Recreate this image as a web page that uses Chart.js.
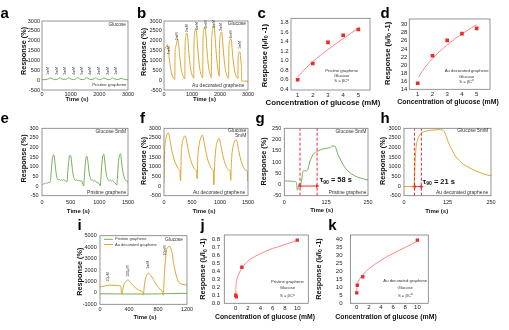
<!DOCTYPE html>
<html><head><meta charset="utf-8">
<script src="https://cdn.jsdelivr.net/npm/chart.js@4/dist/chart.umd.min.js"></script>
<style>
html,body{margin:0;padding:0;background:#fff;}
#wrap{position:relative;width:509px;height:330px;overflow:hidden;background:#fff;}
#wrap canvas{position:absolute;left:0;top:0;}
</style></head><body><div id="wrap"></div>
<script>
// ---------------- DATA ----------------
const timeTicks3000 = [0,1000,2000,3000];
const respTicks3000 = [-500,0,500,1000,1500,2000,2500,3000];
const timeTicks1500 = [0,500,1000,1500];
const respTicksE = [-50,0,50,100,150,200,250,300];
const timeTicks250 = [0,125,250];
const respTicksG = [-50,0,50,100,150,200,250];
const timeTicksI = [0,400,800,1200];
const respTicksI = [-1000,0,1000,2000,3000,4000,5000];
const concTicks5 = [1,2,3,4,5];
const concTicks10 = [0,2,4,6,8,10];
const ratioTicksC = [0.4,0.6,0.8,1.0,1.2,1.4,1.6,1.8];
const ratioTicksD = [14,16,18,20,22,24,26,28,30];
const ratioTicksJ = [0,0.1,0.2,0.3,0.4,0.5,0.6,0.7,0.8];
const ratioTicksK = [0,5,10,15,20,25,30,35,40];

const stepLabels = ['1mM','2mM','3mM','4mM','5mM','4mM','3mM','2mM','1mM'];

// a: pristine graphene, glucose steps
const aTime = [0,100,200,300,380,450,540,620,700,780,850,930,1010,1090,1160,1240,1320,1400,1470,1560,1640,1710,1780,1860,1940,2010,2080,2160,2240,2310,2380,2460,2540,2610,2680,2760,2840,2920,3000];
const aResp = [20,25,50,110,60,25,40,115,60,25,45,120,60,25,45,125,60,25,45,125,60,25,45,120,60,25,45,115,60,25,40,110,55,25,40,100,50,25,20];
const aLabelTime = [210,520,810,1105,1400,1685,1985,2300,2590];
const aLabelResp = [470,470,470,470,470,470,470,470,470];

// b: Au decorated graphene, glucose steps
const bTime = [0,10,40,80,120,150,180,210,240,280,330,385,
 395,405,430,460,486,516,546,576,606,646,696,742,
 750,765,790,818,848,878,908,938,978,1028,1062,
 1070,1085,1110,1139,1169,1199,1229,1259,1299,1349,1382,
 1390,1405,1430,1459,1489,1519,1549,1579,1619,1669,1690,
 1698,1715,1745,1779,1809,1839,1869,1899,1939,1975,
 1983,1998,2025,2052,2082,2112,2142,2172,2212,2262,2307,
 2315,2330,2357,2384,2414,2444,2474,2504,2544,2594,2640,
 2647,2662,2685,2705,2730,2755,2770,2778,2850,3000];
const bResp = [900,1450,1620,1720,1800,1600,1200,850,550,300,130,40,
 1300,1650,1750,1950,2100,1900,1450,1000,650,350,150,60,
 1500,2050,2300,2400,2150,1600,1100,700,380,170,100,
 1600,2250,2500,2600,2350,1750,1200,780,420,190,110,
 1700,2350,2620,2700,2450,1850,1280,820,450,200,130,
 1700,2350,2650,2750,2500,1900,1300,850,430,200,
 1600,2150,2380,2450,2200,1650,1150,750,400,180,90,
 1400,1850,2030,2100,1900,1400,950,620,330,150,70,
 1000,1300,1420,1450,1250,850,500,-40,-50,-50];
const bLabelTime = [178,474,818,1174,1495,1791,2052,2384,2704];
const bLabelResp = [1520,2220,2630,2750,2820,2850,2700,2320,1780];

// c, d: response vs concentration (1-5 mM)
const cConc = [1,2,3,4,5];
const cResp = [0.60,0.94,1.38,1.53,1.65];
const cFitConc = [1,1.5,2,2.5,3,3.5,4,4.5,5,5.1];
const cFitResp = [0.66,0.83,0.98,1.11,1.23,1.35,1.46,1.57,1.68,1.70];
const dConc = [1,2,3,4,5];
const dResp = [15.5,22.3,26.1,27.8,29.1];
const dFitConc = [1.05,1.5,2,2.5,3,3.5,4,4.5,5];
const dFitResp = [17.0,19.5,21.6,23.4,25.0,26.4,27.7,28.9,30.0];

// e: pristine, repeated 5 mM
const eTime = [0,20,40,60,80,100,120,140,150,165,180,195,205,215,230,245,260,280,300,320,340,360,380,400,420,435,445,460,475,490,500,510,525,540,560,580,600,620,640,660,680,700,715,725,735,750,765,780,790,805,820,840,860,880,900,920,940,960,990,1005,1015,1025,1040,1055,1070,1080,1095,1110,1130,1150,1170,1190,1210,1230,1250,1280,1295,1305,1315,1330,1345,1360,1370,1385,1400,1420,1440,1460,1480,1500];
const eResp = [10,8,15,12,18,14,20,20,35,90,140,160,163,150,110,70,45,32,35,28,33,30,35,28,25,22,50,110,150,160,158,140,100,65,40,30,33,26,32,25,28,22,8,0,30,95,140,155,150,115,75,45,30,32,25,30,22,20,15,5,0,30,100,145,162,165,130,85,50,35,28,32,25,30,22,15,8,5,40,110,150,165,168,135,95,60,40,30,25,22];

// f: Au, repeated 5 mM
const fTime = [0,5,15,30,50,70,80,95,115,140,165,190,215,240,265,285,292,298,305,315,330,350,370,385,400,425,450,475,500,525,555,580,588,595,600,612,630,650,670,685,700,725,750,775,800,825,855,880,887,893,900,912,930,950,970,985,1000,1025,1050,1075,1100,1125,1155,1180,1188,1194,1200,1212,1230,1250,1270,1290,1305,1330,1355,1380,1405,1430,1460,1490,1495,1500];
const fResp = [150,1200,2000,2400,2650,2750,2760,2600,2250,1850,1550,1300,1120,980,880,800,300,280,1500,2000,2300,2500,2600,2580,2400,2000,1650,1380,1150,980,850,780,400,380,1200,1800,2200,2450,2600,2650,2520,2150,1750,1450,1200,1030,880,800,100,60,800,1500,2050,2300,2450,2480,2350,1950,1600,1320,1100,950,840,780,350,300,1000,1600,2000,2250,2380,2400,2300,1900,1550,1280,1080,930,820,780,280,250];

// g: pristine, single 5 mM
const gTime = [0,10,20,30,36,39,41,43,45,47,49,52,56,60,65,69,76,86,96,111,126,136,143,151,156,161,166,176,190,200,210,220,230,240,250];
const gResp = [16,15,15,13,10,-25,-20,0,5,-10,0,20,60,62,60,63,100,133,146,156,161,164,171,171,153,130,116,87,60,48,39,32,27,23,20];
const gMarkers = [47,98];
const gArrowResp = -7;

// h: Au, single 5 mM
const hTime = [0,15,28,30,32,35,39,44,50,58,70,85,100,110,116,123,128,133,138,143,152,162,171,180,190,200,210,220,229,240,250];
const hResp = [-30,-30,-25,300,1300,2050,2400,2620,2740,2820,2880,2910,2930,2920,2820,2500,2250,2050,1880,1700,1450,1280,1130,1030,930,840,760,690,630,575,530];
const hMarkers = [30,50];
const hArrowResp = -30;

// i: wide concentration range
const iTime = [0,40,80,138,180,230,280,290,296,305,315,330,350,375,391,410,440,470,500,530,560,580,592,598,605,615,630,648,667,690,720,750,780,810,835,855,868,874,880,890,905,920,940,966,985,1000,1011,1030,1057,1080,1103,1130,1160,1200];
const iAu = [520,560,620,680,660,640,620,400,-60,-80,300,700,950,1100,1120,1000,760,550,380,260,180,140,-100,-200,200,800,1300,1600,1700,1620,1350,1000,700,450,280,150,-100,-200,500,1800,3000,3800,4000,4060,3700,3300,2750,2100,1400,1000,830,760,720,680];
const iPristineTime = [0,200,400,600,800,1000,1200];
const iPristine = [-80,-90,-100,-100,-90,-60,-40];
const iLabelText = ['10\u03bcM','100\u03bcM','1mM','10mM'];
const iLabelTime = [115,385,667,897];
const iLabelResp = [1400,1900,2450,3700];

// j, k: response vs concentration (0.01-10 mM)
const jConc = [0.01,0.1,1,10];
const jResp = [0.10,0.08,0.45,0.79];
const jFitConc = [0,0.02,0.08,0.2,0.4,0.7,1.0,1.5,2,3,4,5,6,7,8,9,10];
const jFitResp = [0.08,0.17,0.24,0.30,0.35,0.40,0.44,0.49,0.53,0.58,0.62,0.655,0.685,0.71,0.735,0.76,0.785];
const kConc = [0.01,0.1,1,10];
const kResp = [6.5,11.3,16.6,39.5];
const kFitConc = [0,0.03,0.1,0.3,0.6,1,1.5,2,3,4,5,6,7,8,9,10];
const kFitResp = [6.0,9.0,11.3,13.8,15.8,17.8,19.9,21.6,24.4,26.9,29.2,31.2,33.1,35.0,36.8,39.0];

// ---------------- STYLE / HELPERS ----------------
const W = 509, H = 330;
const FONT = '"Liberation Sans", Arial, sans-serif';
const GREEN = '#74ae58', GOLD = '#dba632', RED = '#ee2a2a', PINK = '#ff8585', FRAME = '#7a7a7a', TXT = '#222';
const wrap = document.getElementById('wrap');
const fmtInt = v => String(v);
const fmt1 = v => v.toFixed(1);

function P(xs, ys){ return xs.map((x,i)=>({x:x, y:ys[i]})); }
function curve(xs, ys, color){ return {data:P(xs,ys), showLine:true, borderColor:color, backgroundColor:color, borderWidth:1, pointRadius:0, cubicInterpolationMode:'monotone'}; }
function fitLine(xs, ys){ return {data:P(xs,ys), showLine:true, borderColor:PINK, borderWidth:1, pointRadius:0, cubicInterpolationMode:'monotone'}; }
function marks(xs, ys, r){ return {data:P(xs,ys), showLine:false, pointStyle:'rect', pointRadius:r, backgroundColor:RED, pointBackgroundColor:RED, borderColor:RED, pointBorderColor:RED, borderWidth:0, pointBorderWidth:0}; }
function vline(x, y0, y1){ return {data:[{x:x,y:y0},{x:x,y:y1}], showLine:true, borderColor:RED, borderWidth:1, borderDash:[3,2], pointRadius:0}; }
function arrow(x0, x1, y){ return {data:[{x:x0,y:y},{x:x1,y:y}], showLine:true, borderColor:RED, backgroundColor:RED, borderWidth:1, pointStyle:'triangle', pointRadius:2.2, pointRotation:[270,90], pointBackgroundColor:RED, pointBorderColor:RED, pointBorderWidth:0}; }

function fontStr(size, bold, italic){ return (italic?'italic ':'') + (bold?'bold ':'') + size + 'px ' + FONT; }
function drawRich(ctx, parts, x, y, o){
  ctx.save();
  ctx.translate(x, y);
  if (o.rot) ctx.rotate(o.rot);
  let w = 0;
  for (const [t,m] of parts){ ctx.font = fontStr(m ? o.size*0.68 : o.size, o.bold, o.italic); w += ctx.measureText(t).width; }
  let cx = o.align === 'left' ? 0 : (o.align === 'right' ? -w : -w/2);
  ctx.textBaseline = 'middle'; ctx.textAlign = 'left'; ctx.fillStyle = o.color || TXT;
  for (const [t,m] of parts){
    const s = m ? o.size*0.68 : o.size;
    ctx.font = fontStr(s, o.bold, o.italic);
    const dy = m === 1 ? o.size*0.3 : (m === 2 ? -o.size*0.32 : 0);
    ctx.fillText(t, cx, dy);
    cx += ctx.measureText(t).width;
  }
  ctx.restore();
}

const RATIO_TITLE = [['Response (I',0],['f',1],['/I',0],['0',1],[' -1)',0]];
const RESP_TITLE = [['Response (%)',0]];
const SFIT = [['S = \u03b2C',0],['\u03b1',2]];
function rotLabels(texts, xs, ys, size){ return xs.map((x,i)=>({parts:[[texts[i],0]], x:x, y:ys[i], rot:-Math.PI/2, size:size})); }
function tau(val, x, y){ return {parts:[['\u03c4',0],['90',1],[' = '+val+' s',0]], x:x, y:y, align:'left', size:7.5, bold:true, color:'#111'}; }

// ---------------- PANELS ----------------
const PANELS = [
 { letter:['a',0.5,18.3], plot:[42,21,128,90], tick:5.5,
   x:{min:0,max:3000,ticks:timeTicks3000,fmt:fmtInt,pad:1}, y:{min:-500,max:3000,ticks:respTicks3000,fmt:fmtInt,pad:2},
   yTitle:{parts:RESP_TITLE,x:23.5,y:51,size:7.3}, xTitle:{text:'Time (s)',x:77,y:99,size:6},
   datasets:[curve(aTime,aResp,GREEN)],
   notes:[{parts:[['Glucose',0]],x:2930,y:2800,align:'right',size:4.8},
          {parts:[['Pristine graphene',0]],x:2950,y:-250,align:'right',size:4.4}].concat(rotLabels(stepLabels,aLabelTime,aLabelResp,3.6)) },
 { letter:['b',137,18.3], plot:[164,21,248,90], tick:5.5,
   x:{min:0,max:3000,ticks:timeTicks3000,fmt:fmtInt,pad:1}, y:{min:-500,max:3000,ticks:respTicks3000,fmt:fmtInt,pad:2.3},
   yTitle:{parts:RESP_TITLE,x:143.5,y:52,size:7.3}, xTitle:{text:'Time (s)',x:204.5,y:99,size:6},
   datasets:[curve(bTime,bResp,GOLD)],
   notes:[{parts:[['Glucose',0]],x:2930,y:2850,align:'right',size:5},
          {parts:[['Au decorated graphene',0]],x:2870,y:-300,align:'right',size:5}].concat(rotLabels(stepLabels,bLabelTime,bLabelResp,3.6)) },
 { letter:['c',257.5,18.3], plot:[291,18.3,370,90], tick:6,
   x:{min:0.56,max:5.77,ticks:concTicks5,fmt:fmtInt,pad:1.4}, y:{min:0.385,max:1.885,ticks:ratioTicksC,fmt:fmt1,pad:2.4},
   yTitle:{parts:RATIO_TITLE,x:264.5,y:55.7,size:7.6}, xTitle:{text:'Concentration of glucose (mM)',x:323,y:103.3,size:7.8},
   datasets:[marks(cConc,cResp,2.6), fitLine(cFitConc,cFitResp)],
   notes:[{parts:[['Pristine graphene',0]],x:3.9,y:0.79,size:4.2},{parts:[['Glucose',0]],x:3.9,y:0.68,size:4.2},{parts:SFIT,x:3.9,y:0.57,size:4.2}] },
 { letter:['d',380.5,18.3], plot:[409.3,19,490,89.3], tick:6,
   x:{min:0.43,max:5.9,ticks:concTicks5,fmt:fmtInt,pad:1.4}, y:{min:14,max:31.4,ticks:ratioTicksD,fmt:fmtInt,pad:2},
   yTitle:{parts:RATIO_TITLE,x:387.7,y:53.3,size:7.6}, xTitle:{text:'Concentration of glucose (mM)',x:448,y:102.5,size:6.9},
   datasets:[marks(dConc,dResp,2.6), fitLine(dFitConc,dFitResp)],
   notes:[{parts:[['Au decorated graphene',0]],x:4.32,y:18.6,size:4.2},{parts:[['Glucose',0]],x:4.32,y:17.2,size:4.2},{parts:SFIT,x:4.32,y:15.9,size:4.2}] },
 { letter:['e',0.5,123.3], plot:[42,128.3,128,195.7], tick:5.5,
   x:{min:0,max:1500,ticks:timeTicks1500,fmt:fmtInt,pad:3}, y:{min:-50,max:300,ticks:respTicksE,fmt:fmtInt,pad:3.4},
   yTitle:{parts:RESP_TITLE,x:23.5,y:158.5,size:7.3}, xTitle:{text:'Time (s)',x:78.3,y:211,size:6},
   datasets:[curve(eTime,eResp,GREEN)],
   notes:[{parts:[['Glucose 5mM',0]],x:1470,y:283,align:'right',size:5},
          {parts:[['Pristine graphene',0]],x:1470,y:-32,align:'right',size:5}] },
 { letter:['f',140,123.3], plot:[164,128.3,248,195.7], tick:5.5,
   x:{min:0,max:1500,ticks:timeTicks1500,fmt:fmtInt,pad:3}, y:{min:-500,max:3000,ticks:respTicks3000,fmt:fmtInt,pad:3},
   yTitle:{parts:RESP_TITLE,x:143.5,y:161,size:7.3}, xTitle:{text:'Time (s)',x:204,y:211,size:6},
   datasets:[curve(fTime,fResp,GOLD)],
   notes:[{parts:[['Glucose',0]],x:1470,y:2880,align:'right',size:5},{parts:[['5mM',0]],x:1470,y:2620,align:'right',size:5},
          {parts:[['Au decorated graphene',0]],x:1450,y:-320,align:'right',size:5}] },
 { letter:['g',255.5,123.3], plot:[284.3,128.3,368,195.7], tick:5.5,
   x:{min:0,max:250,ticks:timeTicks250,fmt:fmtInt,pad:3}, y:{min:-50,max:250,ticks:respTicksG,fmt:fmtInt,pad:3},
   yTitle:{parts:RESP_TITLE,x:263.7,y:161.5,size:7.3}, xTitle:{text:'Time (s)',x:321.7,y:210.5,size:6},
   datasets:[arrow(gMarkers[0],gMarkers[1],gArrowResp), vline(gMarkers[0],-50,250), vline(gMarkers[1],-50,250), curve(gTime,gResp,GREEN)],
   notes:[{parts:[['Glucose 5mM',0]],x:245,y:236,align:'right',size:5},
          {parts:[['Pristine graphene',0]],x:245,y:-35,align:'right',size:4.8}, tau('58',106,20)] },
 { letter:['h',380.5,123.3], plot:[404,128.3,491,195.7], tick:5.5,
   x:{min:0,max:250,ticks:timeTicks250,fmt:fmtInt,pad:3}, y:{min:-500,max:3000,ticks:respTicks3000,fmt:fmtInt,pad:3.3},
   yTitle:{parts:RESP_TITLE,x:383.3,y:161,size:7.3}, xTitle:{text:'Time (s)',x:436.7,y:211,size:6},
   datasets:[arrow(hMarkers[0],hMarkers[1],hArrowResp), vline(hMarkers[0],-500,3000), vline(hMarkers[1],-500,3000), curve(hTime,hResp,GOLD)],
   notes:[{parts:[['Glucose 5mM',0]],x:242,y:2860,align:'right',size:5},
          {parts:[['Au decorated graphene',0]],x:242,y:-323,align:'right',size:5}, tau('21',54,227)] },
 { letter:['i',77.5,230], plot:[100,235.7,187,304.3], tick:5.5,
   x:{min:0,max:1200,ticks:timeTicksI,fmt:fmtInt,pad:1.4}, y:{min:-1000,max:5000,ticks:respTicksI,fmt:fmtInt,pad:3.3},
   yTitle:{parts:RESP_TITLE,x:80,y:271.7,size:7.3}, xTitle:{text:'Time (s)',x:145,y:317.5,size:6},
   datasets:[curve(iTime,iAu,GOLD), curve(iPristineTime,iPristine,GREEN)],
   notes:[{parts:[['Glucose',0]],x:897,y:4680,align:'left',size:4.9}].concat(rotLabels(iLabelText,iLabelTime,iLabelResp,3.6)),
   legend:[{color:GREEN,text:'Pristine graphene',x:104,y:239.3},{color:GOLD,text:'Au decorated graphene',x:104,y:244.5}] },
 { letter:['j',200.5,230], plot:[224.3,235,308.3,303.3], tick:6,
   x:{min:-1.85,max:11.8,ticks:concTicks10,fmt:fmtInt,pad:1.4}, y:{min:0,max:0.854,ticks:ratioTicksJ,fmt:fmt1,pad:4.3},
   yTitle:{parts:RATIO_TITLE,x:203.3,y:269,size:7.4}, xTitle:{text:'Concentration of glucose (mM)',x:265,y:316.7,size:6.8},
   datasets:[marks(jConc,jResp,2.4), fitLine(jFitConc,jFitResp)],
   notes:[{parts:[['Pristine graphene',0]],x:8.4,y:0.27,size:4.2},{parts:[['Glucose',0]],x:8.4,y:0.19,size:4.2},{parts:SFIT,x:8.4,y:0.09,size:4.2}] },
 { letter:['k',328.3,230], plot:[350.5,235,428.3,303.3], tick:6,
   x:{min:-1.02,max:11.8,ticks:concTicks10,fmt:fmtInt,pad:0.5}, y:{min:0,max:42.7,ticks:ratioTicksK,fmt:fmtInt,pad:8},
   yTitle:{parts:RATIO_TITLE,x:318.8,y:269,size:7.4}, xTitle:{text:'Concentration of glucose (mM)',x:386,y:317,size:6.9},
   datasets:[marks(kConc,kResp,2.4), fitLine(kFitConc,kFitResp)],
   notes:[{parts:[['Au decorated graphene',0]],x:8,y:14.1,size:4.2},{parts:[['Glucose',0]],x:8,y:9.4,size:4.2},{parts:SFIT,x:8,y:4.6,size:4.2}] }
];

const YW = 30, XH = 12;
function fixScale(s){
  if (s.isHorizontal()) s.height = XH; else s.width = YW;
  s.paddingLeft = 0; s.paddingRight = 0; s.paddingTop = 0; s.paddingBottom = 0;
}

function decoPlugin(p){
  return { id:'deco', afterDraw(chart){
    const ctx = chart.ctx, xs = chart.scales.x, ys = chart.scales.y, ca = chart.chartArea;
    ctx.save();
    ctx.strokeStyle = FRAME; ctx.lineWidth = 0.8;
    ctx.strokeRect(ca.left, ca.top, ca.right - ca.left, ca.bottom - ca.top);
    // tick labels, positioned by the chart's own scales
    ctx.fillStyle = TXT; ctx.font = fontStr(p.tick); ctx.textBaseline = 'middle';
    const lh = p.tick * 1.2;
    ctx.textAlign = 'center';
    for (const tk of xs.ticks) ctx.fillText(p.x.fmt(tk.value), xs.getPixelForValue(tk.value), ca.bottom + p.x.pad + lh/2);
    ctx.textAlign = 'right';
    for (const tk of ys.ticks) ctx.fillText(p.y.fmt(tk.value), ca.left - p.y.pad, ys.getPixelForValue(tk.value));
    // panel letter
    ctx.fillStyle = '#000'; ctx.font = fontStr(15, true); ctx.textAlign = 'left'; ctx.textBaseline = 'alphabetic';
    ctx.fillText(p.letter[0], p.letter[1], p.letter[2]);
    // axis titles
    drawRich(ctx, p.yTitle.parts, p.yTitle.x, p.yTitle.y, {size:p.yTitle.size, bold:true, rot:-Math.PI/2, align:'center', color:'#111'});
    drawRich(ctx, [[p.xTitle.text,0]], p.xTitle.x, p.xTitle.y, {size:p.xTitle.size, bold:true, align:'center', color:'#111'});
    // annotations
    for (const n of p.notes){
      drawRich(ctx, n.parts, xs.getPixelForValue(n.x), ys.getPixelForValue(n.y), {size:n.size, bold:!!n.bold, align:n.align||'center', rot:n.rot||0, color:n.color||'#333'});
    }
    if (p.legend){
      for (const e of p.legend){
        ctx.strokeStyle = e.color; ctx.lineWidth = 1;
        ctx.beginPath(); ctx.moveTo(e.x, e.y); ctx.lineTo(e.x + 9, e.y); ctx.stroke();
        drawRich(ctx, [[e.text,0]], e.x + 11, e.y, {size:4, align:'left', color:'#333'});
      }
    }
    ctx.restore();
  }};
}

function axis(a, pos){
  return { type:'linear', position:pos, min:a.min, max:a.max, bounds:'data',
    grid:{display:false}, border:{display:false},
    ticks:{display:false, autoSkip:false, maxRotation:0, minRotation:0},
    afterBuildTicks:s => { s.ticks = a.ticks.map(v => ({value:v})); },
    afterFit:fixScale };
}

for (const p of PANELS){
  const cv = document.createElement('canvas');
  cv.width = W; cv.height = H; cv.style.width = W + 'px'; cv.style.height = H + 'px';
  wrap.appendChild(cv);
  const [l,t,r,b] = p.plot;
  new Chart(cv, {
    type:'scatter',
    data:{datasets:p.datasets},
    options:{
      responsive:false, animation:false, devicePixelRatio:1, events:[],
      layout:{padding:{left:l - YW, top:t, right:W - r, bottom:H - b - XH}},
      plugins:{legend:{display:false}, tooltip:{enabled:false}},
      scales:{ x:axis(p.x, 'bottom'), y:axis(p.y, 'left') }
    },
    plugins:[decoPlugin(p)]
  });
}
</script>
</body></html>
